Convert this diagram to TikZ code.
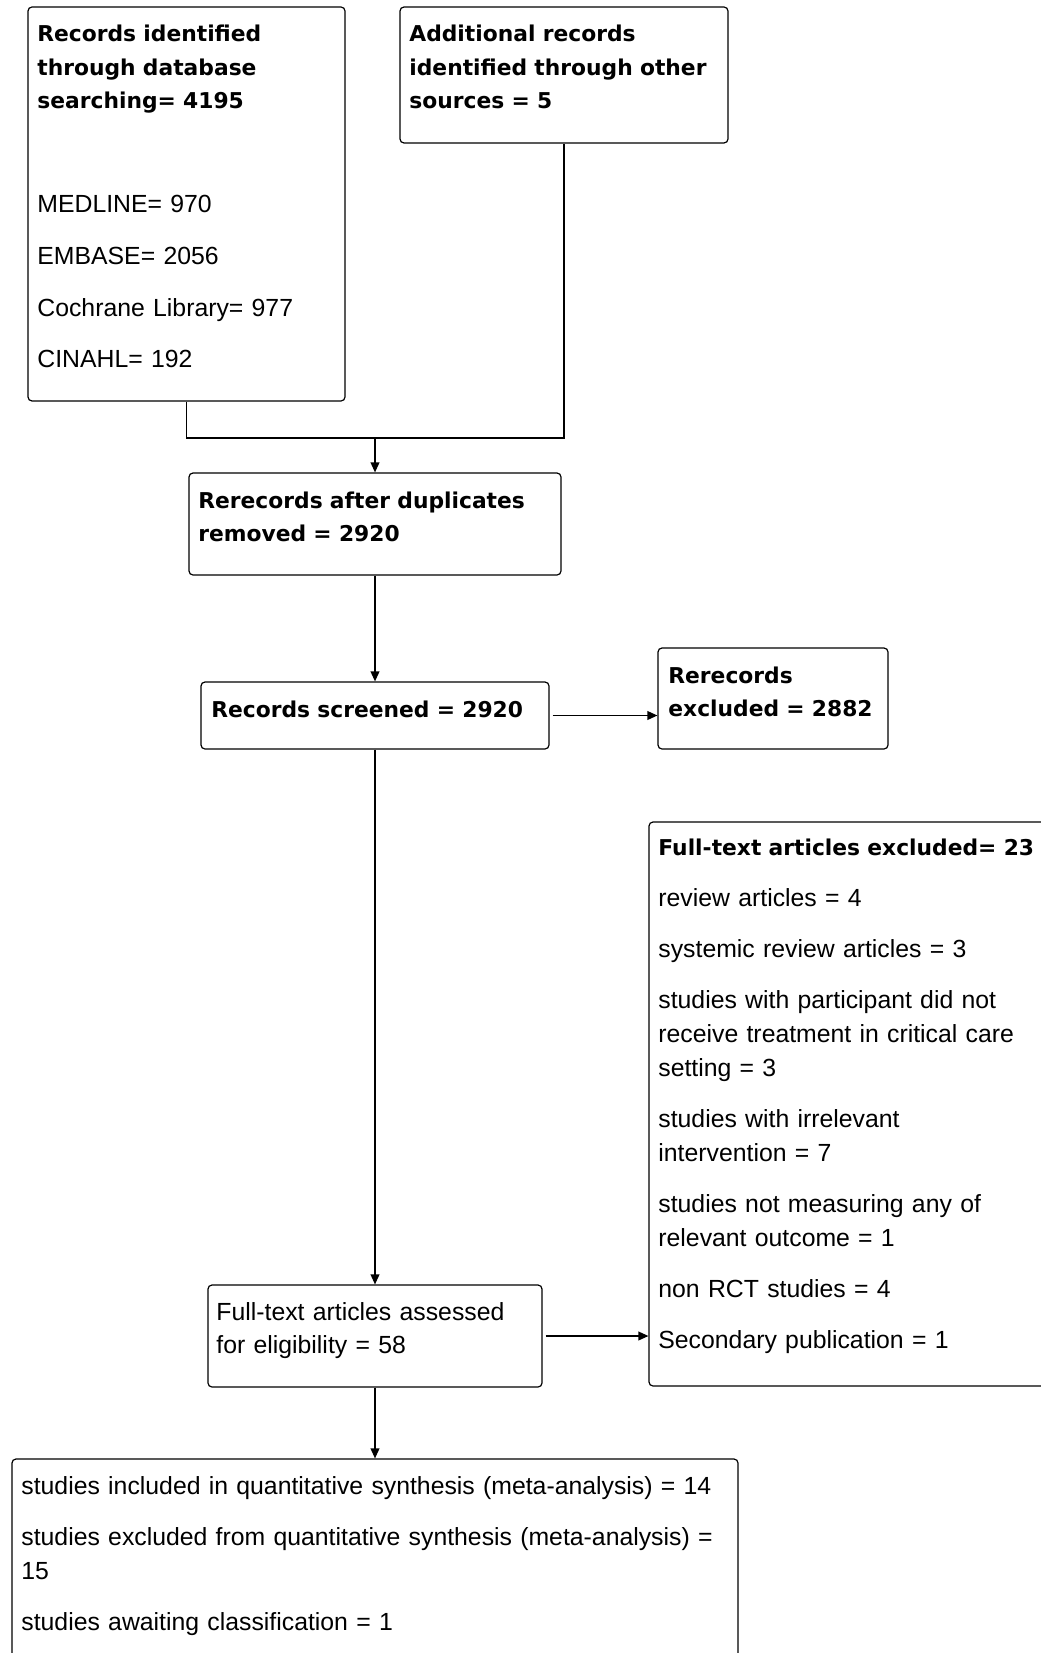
\documentclass[tikz,border=0pt]{standalone}
\usepackage{fontspec}
\setmainfont{Liberation Sans}
\newfontfamily\headfont{DejaVu Sans}
\usepackage{tikz}
\usetikzlibrary{arrows.meta, positioning, fit}

\begin{document}
\begin{tikzpicture}[x=0.5pt, y=-0.5pt,
  box/.style={draw, line width=0.6pt, rounded corners=2pt, inner sep=0pt},
  head/.style={anchor=base west, inner sep=0pt, text width=220pt, align=left,
    font=\headfont\bfseries\fontsize{10.9}{16.75}\selectfont},
  body/.style={anchor=base west, inner sep=0pt, text width=400pt, align=left,
    font=\fontsize{12.4}{17}\selectfont},
  arr/.style={-{Triangle[length=5pt, width=4.4pt]}, line width=0.65pt}]
  \useasboundingbox (0,0) rectangle (1040,1653);

  % Identification
  \node[box, fit={(28,7) (345,401)}] (search) {};
  \node[head] (searchhead) at (37,42) {Records identified\\through database\\searching= 4195};
  \node[body, font=\fontsize{12.4}{25.8}\selectfont] (searchlist) at (37,213)
    {MEDLINE= 970\\EMBASE= 2056\\Cochrane Library= 977\\CINAHL= 192};

  \node[box, fit={(400,7) (728,143)}] (other) {};
  \node[head] (otherhead) at (409,42) {Additional records\\identified through other\\sources = 5};

  % Screening
  \node[box, fit={(189,473) (561,575)}] (dedup) {};
  \node[head] (deduphead) at (198,508) {Rerecords after duplicates\\removed = 2920};

  \node[box, fit={(201,682) (549,749)}] (screened) {};
  \node[head] (screenedhead) at (211,717) {Records screened = 2920};

  \node[box, fit={(658,648) (888,749)}] (excluded) {};
  \node[head] (excludedhead) at (668,683) {Rerecords\\excluded = 2882};

  % Eligibility
  \node[box, fit={(649,822) (1070,1386)}] (fulltext) {};
  \node[head, text width=260pt] (fulltexthead) at (658,855) {Full-text articles excluded= 23};
  \node[body] (fulltextlist) at (658,906)
    {review articles = 4\\[8.5pt]
     systemic review articles = 3\\[8.5pt]
     studies with participant did not\\receive treatment in critical care\\setting = 3\\[8.5pt]
     studies with irrelevant\\intervention = 7\\[8.5pt]
     studies not measuring any of\\relevant outcome = 1\\[8.5pt]
     non RCT studies = 4\\[8.5pt]
     Secondary publication = 1};

  \node[box, fit={(208,1285) (542,1387)}] (assessed) {};
  \node[body, font=\fontsize{12.4}{16.5}\selectfont] (assessedtext) at (216,1320)
    {Full-text articles assessed\\for eligibility = 58};

  % Included
  \node[box, fit={(12,1459) (738,1690)}] (results) {};
  \node[body] (resultstext) at (21,1494)
    {studies included in quantitative synthesis (meta-analysis) = 14\\[8.5pt]
     studies excluded from quantitative synthesis (meta-analysis) =\\15\\[8.5pt]
     studies awaiting classification = 1};

  % Connectors
  \coordinate (join) at (375,438);
  \draw[line width=0.65pt] (search.south) |- (join) -| (other.south);
  \draw[arr] (join) -- (dedup.north);
  \draw[arr] (dedup.south) -- (screened.north);
  \draw[arr, shorten <=1.5pt] (screened.east) -- (screened.east -| excluded.west);
  \draw[arr] (screened.south) -- (assessed.north);
  \draw[arr, shorten <=1.5pt] (assessed.east) -- (assessed.east -| fulltext.west);
  \draw[arr] (assessed.south) -- (results.north);
\end{tikzpicture}
\end{document}
